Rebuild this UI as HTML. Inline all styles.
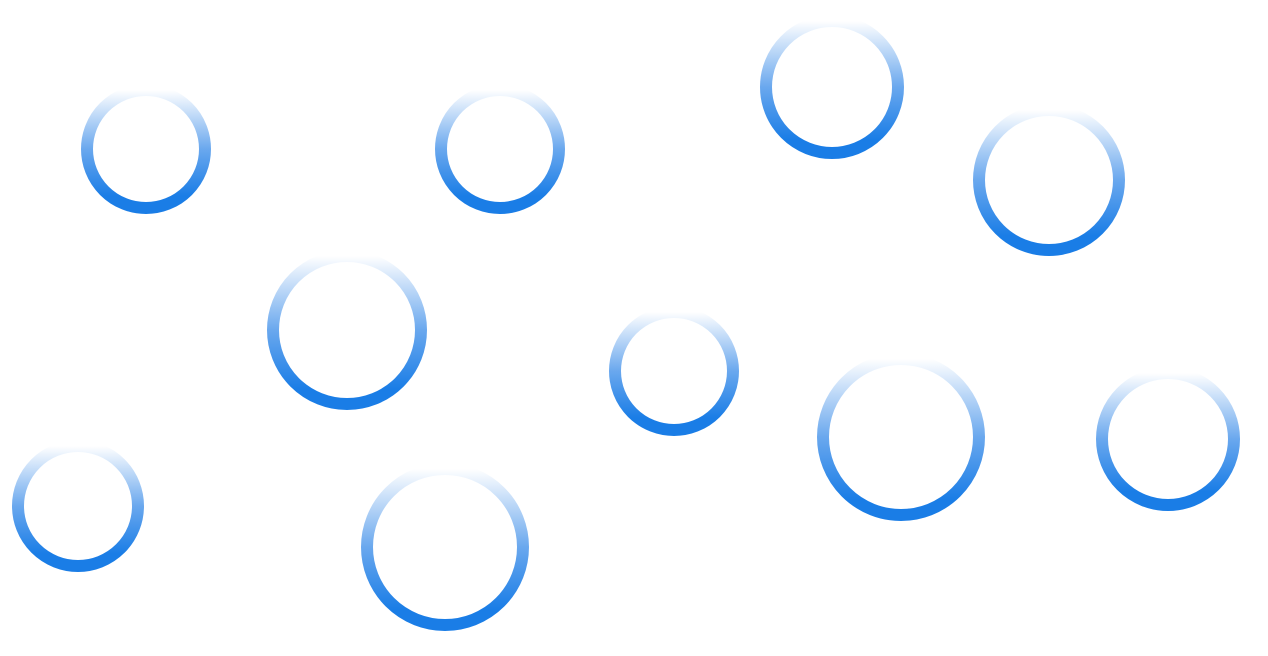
<!DOCTYPE html>
<html><head><meta charset="utf-8"><style>html,body{margin:0;padding:0;background:#fff;}svg{display:block}</style></head>
<body>
<svg width="1268" height="656" viewBox="0 0 1268 656" xmlns="http://www.w3.org/2000/svg">
<defs>
<linearGradient id="g" x1="0" y1="0" x2="0" y2="1">
<stop offset="0" stop-color="#ffffff"/>
<stop offset="0.5" stop-color="#6aa8ee"/>
<stop offset="0.9" stop-color="#1a7de6"/>
<stop offset="1" stop-color="#1a7de6"/>
</linearGradient>
</defs>
<g fill="none" stroke="url(#g)" stroke-width="12">
<circle cx="146" cy="149" r="59"/>
<circle cx="500" cy="149" r="59"/>
<circle cx="832" cy="87" r="66"/>
<circle cx="1049" cy="180" r="70"/>
<circle cx="347" cy="330" r="74"/>
<circle cx="674" cy="371" r="59"/>
<circle cx="901" cy="437" r="78"/>
<circle cx="1168" cy="439" r="66"/>
<circle cx="78" cy="506" r="60"/>
<circle cx="445" cy="547" r="78"/>
</g>
</svg>
</body></html>
